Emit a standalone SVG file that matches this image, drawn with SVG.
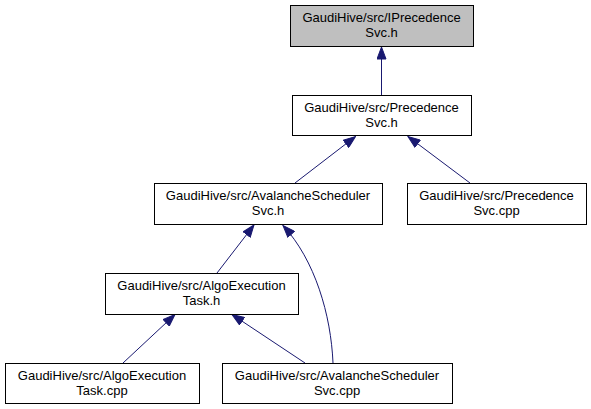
<svg xmlns="http://www.w3.org/2000/svg" width="591" height="409" viewBox="0 0 591 409">
<style>
.node rect{fill:#ffffff;stroke:#000000;stroke-width:1}
.node.root rect{fill:#bfbfbf}
.node text{font-family:"Liberation Sans",Arial,sans-serif;font-size:13px;fill:#000000;text-anchor:middle}
.edges path{fill:none;stroke:#191970;stroke-width:1;marker-end:url(#arr)}
</style>
<defs>
<marker id="arr" markerUnits="userSpaceOnUse" viewBox="0 0 13 10" refX="12.5" refY="5" markerWidth="13" markerHeight="10" orient="auto">
<path d="M0.5,0.5 L12.5,5 L0.5,9.5 z" fill="#191970" stroke="#191970" stroke-width="1"/>
</marker>
</defs>
<rect width="591" height="409" fill="#ffffff"/>
<g class="edges" id="edges">
<path d="M381.5,95 L381.5,47"/>
<path d="M295,183 L355.5,136.5"/>
<path d="M470,183 L408,136.5"/>
<path d="M217,273 L254,225"/>
<path d="M333,363 C331,315 315,260 283,225.5"/>
<path d="M123,363 L175,314.5"/>
<path d="M305,363 L232,314.5"/>
</g>
<g class="node root" id="node1">
<rect x="290.5" y="5.5" width="183" height="41"/>
<text x="381.5" y="22">GaudiHive/src/IPrecedence</text>
<text x="381.5" y="37">Svc.h</text>
</g>
<g class="node" id="node2">
<rect x="292.5" y="95.5" width="179" height="40"/>
<text x="381.5" y="111.5">GaudiHive/src/Precedence</text>
<text x="381.5" y="126.5">Svc.h</text>
</g>
<g class="node" id="node3">
<rect x="154.5" y="183.5" width="228" height="41"/>
<text x="268" y="200">GaudiHive/src/AvalancheScheduler</text>
<text x="268" y="215">Svc.h</text>
</g>
<g class="node" id="node4">
<rect x="407.5" y="183.5" width="179" height="41"/>
<text x="496.5" y="200">GaudiHive/src/Precedence</text>
<text x="496.5" y="215">Svc.cpp</text>
</g>
<g class="node" id="node5">
<rect x="105.5" y="273.5" width="193" height="41"/>
<text x="201.5" y="290">GaudiHive/src/AlgoExecution</text>
<text x="201.5" y="305">Task.h</text>
</g>
<g class="node" id="node6">
<rect x="5.5" y="363.5" width="194" height="40"/>
<text x="102" y="379.5">GaudiHive/src/AlgoExecution</text>
<text x="102" y="394.5">Task.cpp</text>
</g>
<g class="node" id="node7">
<rect x="222.5" y="363.5" width="230" height="40"/>
<text x="337" y="379.5">GaudiHive/src/AvalancheScheduler</text>
<text x="337" y="394.5">Svc.cpp</text>
</g>
</svg>
